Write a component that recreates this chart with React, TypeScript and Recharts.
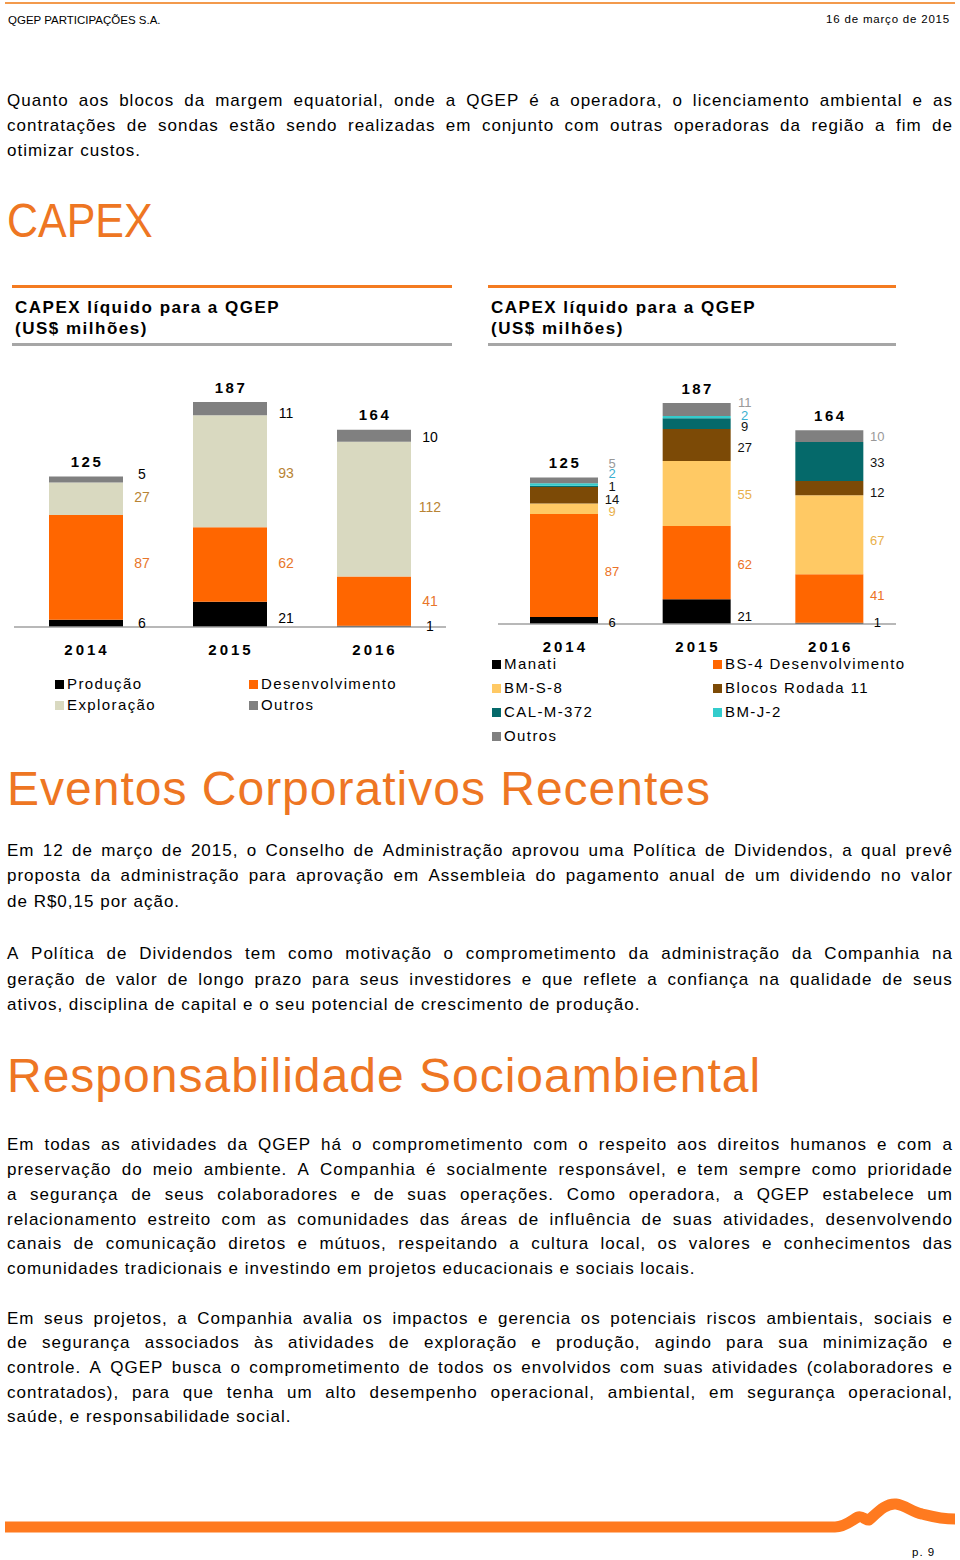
import React from 'react'
import { Bar, BarChart, LabelList, XAxis, YAxis } from 'recharts'

// ---- data ----
const years = ['2014', '2015', '2016']

// chart 1: by phase
const producao = [6, 21, 1]
const desenvolvimento = [87, 62, 41]
const exploracao = [27, 93, 112]
const outrosFase = [5, 11, 10]
const totalsFase = [125, 187, 164]

// chart 2: by asset
const manati = [6, 21, 1]
const bs4 = [87, 62, 41]
const bms8 = [9, 55, 67]
const blocos11 = [14, 27, 12]
const calm372 = [1, 9, 33]
const bmj2 = [2, 2, 0]
const outrosAtivo = [5, 11, 10]
const totalsAtivo = [125, 187, 164]

const FONT = '"Liberation Sans", Arial, Helvetica, sans-serif'
const ORANGE_HEAD = '#EE7623'

const fasesData = years.map((year, i) => ({
  year,
  producao: producao[i],
  desenvolvimento: desenvolvimento[i],
  exploracao: exploracao[i],
  outros: outrosFase[i],
}))

const ativosData = years.map((year, i) => ({
  year,
  manati: manati[i],
  bs4: bs4[i],
  bms8: bms8[i],
  blocos11: blocos11[i],
  calm372: calm372[i],
  bmj2: bmj2[i],
  outros: outrosAtivo[i],
}))

type Serie = { key: string; name: string; color: string; label: string }

const fasesSeries: Serie[] = [
  { key: 'producao', name: 'Produção', color: '#000000', label: '#000000' },
  { key: 'desenvolvimento', name: 'Desenvolvimento', color: '#FF6600', label: '#E8762A' },
  { key: 'exploracao', name: 'Exploração', color: '#D9D9C0', label: '#B88434' },
  { key: 'outros', name: 'Outros', color: '#808080', label: '#000000' },
]

const ativosSeries: Serie[] = [
  { key: 'manati', name: 'Manati', color: '#000000', label: '#000000' },
  { key: 'bs4', name: 'BS-4 Desenvolvimento', color: '#FF6600', label: '#EC7226' },
  { key: 'bms8', name: 'BM-S-8', color: '#FFC964', label: '#E9B04A' },
  { key: 'blocos11', name: 'Blocos Rodada 11', color: '#7C4A06', label: '#111111' },
  { key: 'calm372', name: 'CAL-M-372', color: '#05696A', label: '#111111' },
  { key: 'bmj2', name: 'BM-J-2', color: '#33CCCC', label: '#3AAFD0' },
  { key: 'outros', name: 'Outros', color: '#808080', label: '#999999' },
]

// label nudges (px) so the small stacked values don't overlap, as in the source
const fasesNudge: Record<string, number[]> = {
  producao: [0, 4, 0],
  desenvolvimento: [-4, -1, 0],
  exploracao: [-2, 2, -2],
  outros: [-6, 4, 1],
}
const ativosNudge: Record<string, number[]> = {
  manati: [2, 5, -1],
  bs4: [6, 2, -3],
  bms8: [3, 1, 6],
  blocos11: [4, 3, 4],
  calm372: [0, 3, 1],
  bmj2: [-11, -2, 0],
  outros: [-17, -7, 0],
}

const segLabel = (color: string, dx: number, nudge: number[], size: number) => (props: any) => {
  const { x, y, width, height, value, index } = props
  if (!value) return null
  return (
    <text
      x={Number(x) + Number(width) + dx}
      y={Number(y) + Number(height) / 2 + (nudge[index] ?? 0)}
      fill={color}
      fontSize={size}
      fontFamily={FONT}
      textAnchor="middle"
      dominantBaseline="central"
    >
      {value}
    </text>
  )
}

const totalLabel = (totals: number[], dy: number) => (props: any) => {
  const { x, y, width, index } = props
  return (
    <text
      x={Number(x) + Number(width) / 2 + 1}
      y={Number(y) - dy}
      fill="#000"
      fontSize={15}
      fontWeight="bold"
      fontFamily={FONT}
      letterSpacing={2.5}
      textAnchor="middle"
      dominantBaseline="central"
    >
      {totals[index]}
    </text>
  )
}

const YearTick = (props: any) => {
  const { x, y, payload } = props
  return (
    <text
      x={x + 1}
      y={y + 22}
      fill="#000"
      fontSize={15}
      fontWeight="bold"
      fontFamily={FONT}
      letterSpacing={3}
      textAnchor="middle"
      dominantBaseline="central"
    >
      {payload.value}
    </text>
  )
}

function StackChart({
  data,
  series,
  totals,
  nudge,
  width,
  height,
  top,
  barSize,
  labelDx,
  labelSize,
}: {
  data: any[]
  series: Serie[]
  totals: number[]
  nudge: Record<string, number[]>
  width: number
  height: number
  top: number
  barSize: number
  labelDx: number
  labelSize: number
}) {
  return (
    <BarChart
      width={width}
      height={height}
      data={data}
      margin={{ top, right: 0, bottom: 3, left: 0 }}
      barSize={barSize}
    >
      <XAxis
        dataKey="year"
        height={30}
        tickLine={false}
        tickSize={0}
        tickMargin={0}
        axisLine={{ stroke: '#A0A0A0', strokeWidth: 1.5 }}
        tick={<YearTick />}
        interval={0}
      />
      <YAxis hide domain={[0, 187]} />
      {series.map((s, i) => (
        <Bar key={s.key} dataKey={s.key} stackId="a" fill={s.color} isAnimationActive={false}>
          <LabelList
            dataKey={s.key}
            content={segLabel(s.label, labelDx, nudge[s.key] ?? [0, 0, 0], labelSize)}
          />
          {i === series.length - 1 ? (
            <LabelList dataKey={s.key} content={totalLabel(totals, 15)} />
          ) : null}
        </Bar>
      ))}
    </BarChart>
  )
}

function Legend({ items, cols, rows }: { items: Serie[]; cols: number[]; rows: number[] }) {
  return (
    <>
      {items.map((s, i) => {
        const cx = cols[i % 2]
        const cy = rows[Math.floor(i / 2)]
        return (
          <div
            key={s.key}
            style={{
              position: 'absolute',
              left: cx,
              top: cy - 9,
              height: 18,
              display: 'flex',
              alignItems: 'center',
              fontSize: 15,
              letterSpacing: 1.4,
              whiteSpace: 'nowrap',
              lineHeight: '18px',
            }}
          >
            <span style={{ display: 'inline-block', width: 9, height: 9, background: s.color, marginRight: 3 }} />
            {s.name}
          </div>
        )
      })}
    </>
  )
}

function Line({ text, cy, last }: { text: string; cy: number; last?: boolean }) {
  const base: React.CSSProperties = {
    position: 'absolute',
    left: 7,
    width: 946,
    top: cy - 9,
    fontSize: 17,
    lineHeight: '17px',
    letterSpacing: 1,
    whiteSpace: 'nowrap',
  }
  if (last) return <div style={base}>{text}</div>
  return (
    <div style={{ ...base, display: 'flex', justifyContent: 'space-between' }}>
      {text.split(' ').map((w, i) => (
        <span key={i}>{w}</span>
      ))}
    </div>
  )
}

function Para({ lines, ys }: { lines: string[]; ys: number[] }) {
  return (
    <>
      {lines.map((t, i) => (
        <Line key={i} text={t} cy={ys[i]} last={i === lines.length - 1} />
      ))}
    </>
  )
}

function Heading({ text, cy, scale = 1 }: { text: string; cy: number; scale?: number }) {
  return (
    <div
      style={{
        position: 'absolute',
        left: 7,
        top: cy - 23,
        fontSize: 48,
        lineHeight: '48px',
        color: ORANGE_HEAD,
        letterSpacing: scale === 1 ? 1 : 0,
        whiteSpace: 'nowrap',
        transform: scale === 1 ? undefined : `scaleX(${scale})`,
        transformOrigin: 'left center',
      }}
    >
      {text}
    </div>
  )
}

function ChartTitle({ left, width }: { left: number; width: number }) {
  return (
    <>
      <div style={{ position: 'absolute', left, top: 285, width, height: 3, background: '#F47B20' }} />
      <div
        style={{
          position: 'absolute',
          left: left + 3,
          top: 297,
          fontSize: 17,
          fontWeight: 'bold',
          letterSpacing: 1.5,
          lineHeight: '21px',
          whiteSpace: 'nowrap',
        }}
      >
        CAPEX líquido para a QGEP
        <br />(US$ milhões)
      </div>
      <div style={{ position: 'absolute', left, top: 343, width, height: 3, background: '#A6A6A6' }} />
    </>
  )
}

const p1 = [
  'Quanto aos blocos da margem equatorial, onde a QGEP é a operadora, o licenciamento ambiental e as',
  'contratações de sondas estão sendo realizadas em conjunto com outras operadoras da região a fim de',
  'otimizar custos.',
]
const p2 = [
  'Em 12 de março de 2015, o Conselho de Administração aprovou uma Política de Dividendos, a qual prevê',
  'proposta da administração para aprovação em Assembleia do pagamento anual de um dividendo no valor',
  'de R$0,15 por ação.',
]
const p3 = [
  'A Política de Dividendos tem como motivação o comprometimento da administração da Companhia na',
  'geração de valor de longo prazo para seus investidores e que reflete a confiança na qualidade de seus',
  'ativos, disciplina de capital e o seu potencial de crescimento de produção.',
]
const p4 = [
  'Em todas as atividades da QGEP há o comprometimento com o respeito aos direitos humanos e com a',
  'preservação do meio ambiente. A Companhia é socialmente responsável, e tem sempre como prioridade',
  'a segurança de seus colaboradores e de suas operações. Como operadora, a QGEP estabelece um',
  'relacionamento estreito com as comunidades das áreas de influência de suas atividades, desenvolvendo',
  'canais de comunicação diretos e mútuos, respeitando a cultura local, os valores e conhecimentos das',
  'comunidades tradicionais e investindo em projetos educacionais e sociais locais.',
]
const p5 = [
  'Em seus projetos, a Companhia avalia os impactos e gerencia os potenciais riscos ambientais, sociais e',
  'de segurança associados às atividades de exploração e produção, agindo para sua minimização e',
  'controle. A QGEP busca o comprometimento de todos os envolvidos com suas atividades (colaboradores e',
  'contratados), para que tenha um alto desempenho operacional, ambiental, em segurança operacional,',
  'saúde, e responsabilidade social.',
]

export default function App() {
  return (
    <div
      style={{
        position: 'absolute',
        left: 0,
        top: 0,
        width: 960,
        height: 1560,
        background: '#fff',
        fontFamily: FONT,
        color: '#000',
        overflow: 'hidden',
      }}
    >
      {/* header */}
      <div style={{ position: 'absolute', left: 5, top: 2, width: 950, height: 2, background: '#F39A4C' }} />
      <div style={{ position: 'absolute', left: 8, top: 14, fontSize: 11.5, lineHeight: '12px' }}>
        QGEP PARTICIPAÇÕES S.A.
      </div>
      <div style={{ position: 'absolute', right: 10, top: 13, fontSize: 11.5, lineHeight: '12px', letterSpacing: 0.8 }}>
        16 de março de 2015
      </div>

      <Para lines={p1} ys={[101, 126, 151]} />
      <Heading text="CAPEX" cy={220} scale={0.895} />

      {/* chart 1 */}
      <ChartTitle left={12} width={440} />
      <div style={{ position: 'absolute', left: 14, top: 360 }}>
        <StackChart
          data={fasesData}
          series={fasesSeries}
          totals={totalsFase}
          nudge={fasesNudge}
          width={432}
          height={300}
          top={42}
          barSize={74}
          labelDx={19}
          labelSize={14}
        />
      </div>
      <Legend items={fasesSeries} cols={[55, 249]} rows={[684, 705]} />

      {/* chart 2 */}
      <ChartTitle left={488} width={408} />
      <div style={{ position: 'absolute', left: 498, top: 360 }}>
        <StackChart
          data={ativosData}
          series={ativosSeries}
          totals={totalsAtivo}
          nudge={ativosNudge}
          width={398}
          height={297}
          top={43}
          barSize={68}
          labelDx={14}
          labelSize={13}
        />
      </div>
      <Legend items={ativosSeries} cols={[492, 713]} rows={[664, 688, 712, 736]} />

      <Heading text="Eventos Corporativos Recentes" cy={788} />
      <Para lines={p2} ys={[851, 876, 902]} />
      <Para lines={p3} ys={[954, 980, 1005]} />

      <Heading text="Responsabilidade Socioambiental" cy={1075} />
      <Para lines={p4} ys={[1145, 1170, 1195, 1220, 1244, 1269]} />
      <Para lines={p5} ys={[1319, 1343, 1368, 1393, 1417]} />

      {/* footer */}
      <svg style={{ position: 'absolute', left: 0, top: 0 }} width={960} height={1560} pointerEvents="none">
        <path
          d="M5 1527 L835 1527 C845 1527 852 1520 858 1517 C862 1515 866 1521 869 1520 C878 1512 886 1503 896 1504 C905 1505 912 1512 922 1514 C930 1516 940 1519 955 1519"
          fill="none"
          stroke="#FF7A1F"
          strokeWidth={11}
        />
      </svg>
      <div style={{ position: 'absolute', left: 912, top: 1546, fontSize: 11.5, lineHeight: '12px', letterSpacing: 1 }}>
        p. 9
      </div>
    </div>
  )
}
